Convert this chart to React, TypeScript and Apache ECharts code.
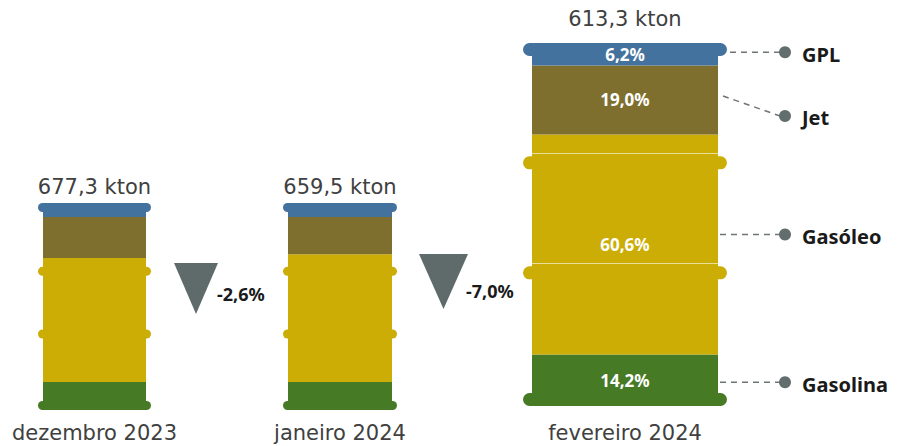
import React, { useEffect, useRef } from 'react';
import * as echarts from 'echarts';

// ---- data ----
const months = ['dezembro 2023', 'janeiro 2024', 'fevereiro 2024'];
const totals = [677.3, 659.5, 613.3];
const fuels = ['Gasolina', 'Gasóleo', 'Jet', 'GPL'];
const gasolina = [13.5, 13.5, 14.2];
const gasoleo = [59.9, 61.8, 60.6];
const jet = [19.8, 17.9, 19.0];
const gpl = [6.8, 6.8, 6.2];
const changes = [-2.6, -7.0];

const shares = [gasolina, gasoleo, jet, gpl];
const colors = ['#467a25', '#cbad06', '#7f6f2e', '#44729e'];

const fmt = (v: number, d = 1) => v.toFixed(d).replace('.', ',');

// ---- layout ----
const grids = [
  { left: 43, top: 203, width: 103, height: 207 },
  { left: 288, top: 203, width: 104, height: 207 },
  { left: 532, top: 43, width: 186, height: 363 },
];
const rimThick = [9, 9, 13];
const rimOver = [5, 5, 9];
const rimLevels = [100, 67, 36.7, 0];
const topMargin = [6, 6, 14];
const bottomMargin = [12, 12, 16];
const showPct = [false, false, true];
const hiBarrel = 2;
const calloutDy = [[2, 2], [-10, -10], [-4, 16], [-2, -2]];
const calloutStart = [2, 2, 5, 12];
const arrows = [
  { x: 174, y: 263, w: 44, h: 51, tx: 217, ty: 294 },
  { x: 419, y: 254, w: 49, h: 55, tx: 466, ty: 291 },
];

const REG = 'DejaVu Sans';
const BOLD = 'Noto Sans';

function segIndexAt(b: number, level: number) {
  let cum = 0;
  for (let f = 0; f < shares.length; f++) {
    cum += shares[f][b];
    if (level < cum) return f;
  }
  return shares.length - 1;
}

export default function App() {
  const ref = useRef<HTMLDivElement>(null);
  useEffect(() => {
    if (!ref.current) return;
    const chart = echarts.init(ref.current, undefined, { renderer: 'svg' });

    const xAxis: any[] = [];
    const yAxis: any[] = [];
    const series: any[] = [];

    grids.forEach((g, b) => {
      xAxis.push({
        type: 'category', gridIndex: b, data: [months[b]],
        axisLine: { show: false }, axisTick: { show: false }, splitLine: { show: false },
        axisLabel: { margin: bottomMargin[b], fontFamily: REG, fontSize: 21, color: '#404040' },
      });
      xAxis.push({
        type: 'category', gridIndex: b, position: 'top', data: [fmt(totals[b]) + ' kton'],
        axisLine: { show: false }, axisTick: { show: false }, splitLine: { show: false },
        axisLabel: { margin: topMargin[b], fontFamily: REG, fontSize: 21, color: '#404040' },
      });
      yAxis.push({ type: 'value', gridIndex: b, min: 0, max: 100, show: false });

      // rims (below bars)
      series.push({
        type: 'custom', xAxisIndex: b * 2, yAxisIndex: b, z: 1, silent: true,
        data: rimLevels.map((l) => [0, l]),
        renderItem: (_p: any, api: any) => {
          const level = api.value(1);
          const p = api.coord([api.value(0), level]);
          const bw = api.size([1, 0])[0];
          const th = rimThick[b];
          const ov = rimOver[b];
          let y;
          if (level >= 100) y = p[1];
          else if (level <= 0) y = p[1] - th;
          else y = p[1] - th / 2;
          return {
            type: 'rect',
            shape: { x: p[0] - bw / 2 - ov, y, width: bw + 2 * ov, height: th, r: th / 2 },
            style: { fill: colors[segIndexAt(b, level)] },
          };
        },
      });

      // stacked segments
      fuels.forEach((name, f) => {
        series.push({
          type: 'bar', name, stack: 's' + b, xAxisIndex: b * 2, yAxisIndex: b, z: 2,
          barWidth: '100%', silent: true,
          data: [shares[f][b]],
          itemStyle: { color: colors[f] },
          label: {
            show: showPct[b], position: 'inside',
            formatter: (p: any) => fmt(p.value) + '%',
            color: '#ffffff', fontFamily: BOLD, fontWeight: 'bold', fontSize: 17,
          },
        });
      });

      if (b === hiBarrel) {
        // highlight lines above middle rims
        series.push({
          type: 'custom', xAxisIndex: b * 2, yAxisIndex: b, z: 3, silent: true,
          data: rimLevels.filter((l) => l > 0 && l < 100).map((l) => [0, l]),
          renderItem: (_p: any, api: any) => {
            const p = api.coord([api.value(0), api.value(1)]);
            const bw = api.size([1, 0])[0];
            const y = Math.round(p[1] - rimThick[b] / 2 - 3) + 0.5;
            return {
              type: 'line',
              shape: { x1: p[0] - bw / 2, y1: y, x2: p[0] + bw / 2, y2: y },
              style: { stroke: 'rgba(255,255,255,0.6)', lineWidth: 1 },
            };
          },
        });
        // callouts
        let cum = 0;
        const cdata = fuels.map((name, f) => {
          const c = cum + shares[f][b] / 2;
          cum += shares[f][b];
          return [0, c, f];
        });
        series.push({
          type: 'custom', xAxisIndex: b * 2, yAxisIndex: b, z: 3, silent: true,
          data: cdata,
          renderItem: (_p: any, api: any) => {
            const f = api.value(2);
            const p = api.coord([api.value(0), api.value(1)]);
            const bw = api.size([1, 0])[0];
            const right = p[0] + bw / 2;
            const y1 = p[1] + calloutDy[f][0];
            const y2 = p[1] + calloutDy[f][1];
            const dotX = right + 67;
            return {
              type: 'group',
              children: [
                {
                  type: 'line',
                  shape: { x1: right + calloutStart[f], y1, x2: dotX - 5, y2 },
                  style: { stroke: '#6f7576', lineWidth: 1.5, lineDash: [6, 5] },
                },
                { type: 'circle', shape: { cx: dotX, cy: y2, r: 6 }, style: { fill: '#626d6d' } },
                {
                  type: 'text',
                  style: {
                    text: fuels[f], x: dotX + 17, y: y2 + 2, verticalAlign: 'middle', align: 'left',
                    font: 'bold 20px "Noto Sans"', fill: '#1a1a1a',
                  },
                },
              ],
            };
          },
        });
      }
    });

    const graphic: any[] = [];
    arrows.forEach((a, i) => {
      graphic.push({
        type: 'polygon',
        shape: { points: [[a.x, a.y], [a.x + a.w, a.y], [a.x + a.w / 2, a.y + a.h]] },
        style: { fill: '#5f6b6a' },
      });
      graphic.push({
        type: 'text', x: a.tx, y: a.ty,
        style: {
          text: fmt(changes[i]) + '%', verticalAlign: 'middle', align: 'left',
          font: 'bold 18px "Noto Sans"', fill: '#1a1a1a',
        },
      });
    });

    chart.setOption({
      animation: false,
      backgroundColor: '#ffffff',
      grid: grids.map((g) => ({ ...g, containLabel: false })),
      xAxis, yAxis, series, graphic,
    });
    return () => chart.dispose();
  }, []);

  return (
    <div
      ref={ref}
      style={{ position: 'fixed', left: 0, top: 0, width: 900, height: 446, background: '#fff' }}
    />
  );
}
